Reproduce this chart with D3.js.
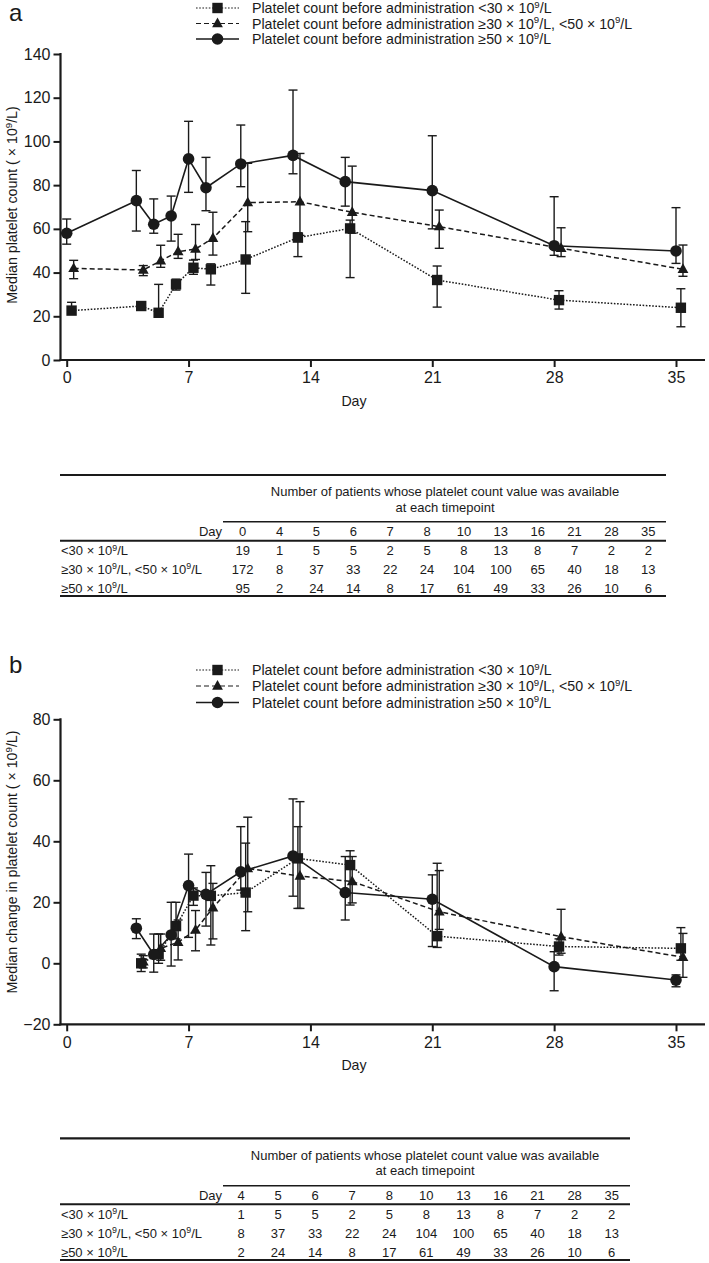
<!DOCTYPE html>
<html><head><meta charset="utf-8">
<script src="https://cdn.jsdelivr.net/npm/d3@7"></script>
<style>
body{margin:0;background:#fff}
text{font-family:"Liberation Sans",Arial,Helvetica,sans-serif;fill:#1a1a1a}
</style>
</head><body>
<svg id="c" width="709" height="1263"></svg>
<script>
// ---------- DATA ----------
const legendLabels = [
  "Platelet count before administration <30 × 10⁹/L",
  "Platelet count before administration ≥30 × 10⁹/L, <50 × 10⁹/L",
  "Platelet count before administration ≥50 × 10⁹/L"
];
const rowLabels = ["<30 × 10⁹/L", "≥30 × 10⁹/L, <50 × 10⁹/L", "≥50 × 10⁹/L"];
const xTicks = [0, 7, 14, 21, 28, 35];
const yTicksA = [0, 20, 40, 60, 80, 100, 120, 140];
const yTicksB = [-20, 0, 20, 40, 60, 80];

// Panel a: median platelet count
const daysA = [0, 4, 5, 6, 7, 8, 10, 13, 16, 21, 28, 35];
const a_lt30_med = [22.6, 24.7, 21.6, 34.6, 42.2, 41.5, 46.0, 56.0, 60.2, 36.6, 27.4, 23.9];
const a_lt30_lo  = [21.0, 23.5, 20.5, 32.0, 39.2, 34.3, 30.5, 47.3, 37.7, 24.2, 23.3, 15.2];
const a_lt30_hi  = [26.4, 25.5, 34.6, 37.0, 45.7, 44.0, 63.3, 58.2, 64.0, 43.0, 31.7, 32.6];
const a_mid_med  = [41.9, 41.2, 45.4, 49.6, 50.8, 55.7, 72.0, 72.4, 67.6, 61.0, 51.1, 41.5];
const a_mid_lo   = [37.2, 38.6, 42.4, 46.5, 46.0, 48.0, 58.7, 57.0, 58.0, 51.1, 47.3, 38.3];
const a_mid_hi   = [45.6, 43.2, 52.5, 57.5, 62.0, 67.6, 90.0, 94.5, 88.7, 68.6, 60.5, 52.6];
const a_ge50_med = [58.0, 72.9, 62.1, 65.9, 92.0, 78.8, 89.7, 93.6, 81.6, 77.5, 52.3, 49.9];
const a_ge50_lo  = [53.0, 59.0, 58.0, 54.4, 76.7, 68.3, 79.3, 85.2, 70.4, 60.0, 47.9, 44.2];
const a_ge50_hi  = [64.5, 86.7, 73.7, 75.0, 109.2, 92.7, 107.5, 123.5, 92.7, 102.6, 74.7, 69.7];

// Panel b: median change in platelet count
const daysB = [4, 5, 6, 7, 8, 10, 13, 16, 21, 28, 35];
const b_lt30_med = [0.0, 3.0, 12.2, 22.2, 22.1, 23.2, 34.4, 32.2, 8.9, 5.5, 4.9];
const b_lt30_lo  = [-2.7, 0.0, 8.0, 19.0, 6.0, 10.7, 18.0, 19.1, 5.2, 2.7, 1.0];
const b_lt30_hi  = [3.0, 9.6, 20.0, 24.7, 32.0, 39.4, 44.8, 36.9, 32.8, 8.0, 11.7];
const b_mid_med  = [0.5, 4.9, 6.9, 10.9, 18.2, 31.1, 28.6, 26.8, 16.9, 8.7, 2.0];
const b_mid_lo   = [-1.5, 1.0, 1.1, 4.1, 8.0, 16.9, 18.0, 19.8, 11.1, 3.3, -4.6];
const b_mid_hi   = [2.5, 9.6, 14.2, 17.3, 26.2, 47.9, 53.0, 35.0, 30.4, 17.7, 9.8];
const b_ge50_med = [11.5, 2.9, 9.3, 25.5, 22.6, 30.0, 35.2, 23.2, 21.0, -1.1, -5.5];
const b_ge50_lo  = [8.1, -2.9, -0.9, 8.5, 12.2, 24.0, 22.0, 14.2, 5.5, -9.0, -7.7];
const b_ge50_hi  = [14.6, 9.6, 20.0, 35.8, 29.8, 44.8, 53.9, 35.0, 29.0, 3.8, -3.8];

// Table counts
const tableDaysA = [0, 4, 5, 6, 7, 8, 10, 13, 16, 21, 28, 35];
const n_lt30 = [19, 1, 5, 5, 2, 5, 8, 13, 8, 7, 2, 2];
const n_mid  = [172, 8, 37, 33, 22, 24, 104, 100, 65, 40, 18, 13];
const n_ge50 = [95, 2, 24, 14, 8, 17, 61, 49, 33, 26, 10, 6];
const tableDaysB = [4, 5, 6, 7, 8, 10, 13, 16, 21, 28, 35];
const tableTitle = ["Number of patients whose platelet count value was available", "at each timepoint"];

// ---------- DRAW ----------
const svg = d3.select("#c");
const INK = "#1a1a1a";

function rich(sel, str, fs) {
  const parts = str.split("⁹");
  parts.forEach((p, i) => {
    const t = sel.append("tspan").text(p);
    if (i > 0) t.attr("dy", fs * 0.36);
    if (i < parts.length - 1) {
      sel.append("tspan").attr("font-size", fs * 0.68).attr("dy", -fs * 0.36).text("9");
    }
  });
  return sel;
}

const styles = [
  {shape: "square", dash: "1.6,1.6", dodge: 0.28},
  {shape: "triangle", dash: "5,3", dodge: 0.40},
  {shape: "circle", dash: null, dodge: 0}
];

function marker(g, shape, cx, cy) {
  if (shape === "circle") g.append("circle").attr("cx", cx).attr("cy", cy).attr("r", 5.8).attr("fill", INK);
  else if (shape === "square") g.append("rect").attr("x", cx - 5.2).attr("y", cy - 5.2).attr("width", 10.4).attr("height", 10.4).attr("fill", INK);
  else g.append("path").attr("d", `M${cx},${cy - 6}L${cx + 5.4},${cy + 3.7}L${cx - 5.4},${cy + 3.7}Z`).attr("fill", INK);
}

const x = d3.scaleLinear().domain([0, 35]).range([66.7, 676]);

function panel(cfg) {
  const g = svg.append("g");
  const y = cfg.y;
  g.append("text").attr("x", 9).attr("y", cfg.letterY).attr("font-size", 24).text(cfg.letter);
  // legend
  cfg.legendY.forEach((ly, i) => {
    const st = styles[i];
    g.append("line").attr("x1", 196).attr("x2", 239).attr("y1", ly).attr("y2", ly)
      .attr("stroke", INK).attr("stroke-width", st.shape === "circle" ? 1.6 : 1.2)
      .attr("stroke-dasharray", st.dash);
    marker(g, st.shape, 217.5, ly);
    rich(g.append("text").attr("x", 252).attr("y", ly + 5).attr("font-size", 14.2), legendLabels[i], 14.2);
  });
  // axes
  const yAxis = d3.axisLeft(y).tickValues(cfg.yTicks).tickSize(7).tickPadding(3).tickSizeOuter(0);
  const ya = g.append("g").attr("transform", "translate(60.5,0)").call(yAxis);
  ya.select(".domain").remove();
  ya.selectAll("line").attr("stroke", INK).attr("stroke-width", 2);
  ya.selectAll("text").attr("font-size", 16).attr("fill", INK).style("font-family", "Liberation Sans, Arial, sans-serif");
  g.append("line").attr("x1", 60.5).attr("x2", 60.5).attr("y1", y.range()[1] - 1).attr("y2", y.range()[0] + 1)
    .attr("stroke", INK).attr("stroke-width", 2.2);
  const xAxis = d3.axisBottom(x).tickValues(xTicks).tickSize(7).tickPadding(5).tickSizeOuter(0);
  const xa = g.append("g").attr("transform", `translate(0,${y.range()[0]})`).call(xAxis);
  xa.select(".domain").remove();
  xa.selectAll("line").attr("stroke", INK).attr("stroke-width", 2);
  xa.selectAll("text").attr("font-size", 16).attr("fill", INK).style("font-family", "Liberation Sans, Arial, sans-serif");
  g.append("line").attr("x1", 59.4).attr("x2", 705).attr("y1", y.range()[0]).attr("y2", y.range()[0])
    .attr("stroke", INK).attr("stroke-width", 2.2);
  g.append("text").attr("x", 354).attr("y", y.range()[0] + 46).attr("text-anchor", "middle").attr("font-size", 14.2).text("Day");
  rich(g.append("text").attr("transform", `translate(17,${cfg.yLabelMid}) rotate(-90)`).attr("text-anchor", "middle")
    .attr("font-size", 14.2), cfg.yLabel, 14.2);

  // series
  cfg.series.forEach((s, i) => {
    const st = styles[i];
    const pts = cfg.days.map((d, k) => ({x: x(d + st.dodge), m: y(s.med[k]), lo: y(s.lo[k]), hi: y(s.hi[k])}));
    const sg = g.append("g");
    pts.forEach(p => {
      sg.append("line").attr("x1", p.x).attr("x2", p.x).attr("y1", p.lo).attr("y2", p.hi).attr("stroke", INK).attr("stroke-width", 1.4);
      [p.lo, p.hi].forEach(v => sg.append("line").attr("x1", p.x - 4.5).attr("x2", p.x + 4.5).attr("y1", v).attr("y2", v).attr("stroke", INK).attr("stroke-width", 1.4));
    });
    sg.append("path").datum(pts).attr("d", d3.line().x(p => p.x).y(p => p.m))
      .attr("fill", "none").attr("stroke", INK).attr("stroke-width", st.shape === "circle" ? 1.6 : 1.5)
      .attr("stroke-dasharray", st.dash);
    pts.forEach(p => marker(sg, st.shape, p.x, p.m));
  });
}

panel({
  letter: "a", letterY: 21, legendY: [8, 23.5, 39],
  y: d3.scaleLinear().domain([0, 140]).range([360, 54]),
  yTicks: yTicksA, yLabel: "Median platelet count ( × 10⁹/L)", yLabelMid: 205,
  days: daysA,
  series: [
    {med: a_lt30_med, lo: a_lt30_lo, hi: a_lt30_hi},
    {med: a_mid_med, lo: a_mid_lo, hi: a_mid_hi},
    {med: a_ge50_med, lo: a_ge50_lo, hi: a_ge50_hi}
  ]
});
panel({
  letter: "b", letterY: 673, legendY: [670, 686, 702.5],
  y: d3.scaleLinear().domain([-20, 80]).range([1024.3, 719.3]),
  yTicks: yTicksB, yLabel: "Median change in platelet count ( × 10⁹/L)", yLabelMid: 862,
  days: daysB,
  series: [
    {med: b_lt30_med, lo: b_lt30_lo, hi: b_lt30_hi},
    {med: b_mid_med, lo: b_mid_lo, hi: b_mid_hi},
    {med: b_ge50_med, lo: b_ge50_lo, hi: b_ge50_hi}
  ]
});

function table(cfg) {
  const g = svg.append("g");
  const cx = d3.scalePoint().domain(cfg.days).range(cfg.colRange);
  const fs = 13;
  const hl = (y0, x1, x2, w) => g.append("line").attr("x1", x1).attr("x2", x2).attr("y1", y0).attr("y2", y0).attr("stroke", INK).attr("stroke-width", w);
  hl(cfg.top, 60, cfg.right, 2.2);
  hl(cfg.subLine, 223, cfg.right, 1.5);
  hl(cfg.headLine, 60, cfg.right, 2);
  hl(cfg.bottom, 60, cfg.right, 2.2);
  tableTitle.forEach((t, i) => g.append("text").attr("x", cfg.titleX).attr("y", cfg.titleY[i] + 4.5)
    .attr("text-anchor", "middle").attr("font-size", fs).text(t));
  g.append("text").attr("x", 222).attr("y", cfg.headY + 4.5).attr("text-anchor", "end").attr("font-size", fs).text("Day");
  cfg.days.forEach(d => g.append("text").attr("x", cx(d)).attr("y", cfg.headY + 4.5).attr("text-anchor", "middle").attr("font-size", fs).text(d));
  const rows = [cfg.n[0], cfg.n[1], cfg.n[2]];
  rows.forEach((r, i) => {
    rich(g.append("text").attr("x", 61).attr("y", cfg.rowY[i] + 4.5).attr("font-size", fs), rowLabels[i], fs);
    r.forEach((v, k) => g.append("text").attr("x", cx(cfg.days[k])).attr("y", cfg.rowY[i] + 4.5).attr("text-anchor", "middle").attr("font-size", fs).text(v));
  });
}

table({
  days: tableDaysA, colRange: [242.7, 648.3], right: 666,
  top: 475, subLine: 521.7, headLine: 540.7, bottom: 596,
  titleX: 445, titleY: [491, 507], headY: 531.7, rowY: [550.7, 569.3, 588],
  n: [n_lt30, n_mid, n_ge50]
});
table({
  days: tableDaysB, colRange: [241, 611.7], right: 630,
  top: 1138.3, subLine: 1185.7, headLine: 1204.3, bottom: 1260,
  titleX: 425, titleY: [1155, 1170], headY: 1195.7, rowY: [1214.3, 1233.3, 1252],
  n: [n_lt30.slice(1), n_mid.slice(1), n_ge50.slice(1)]
});
</script>
</body></html>
